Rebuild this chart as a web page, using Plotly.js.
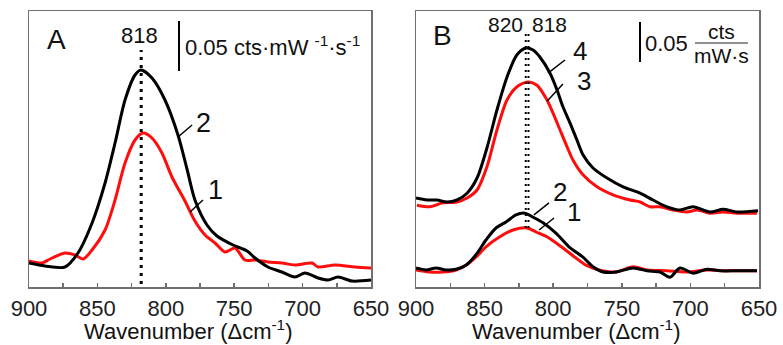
<!DOCTYPE html>
<html>
<head>
<meta charset="utf-8">
<script src="https://cdn.plot.ly/plotly-3.0.1.min.js"></script>
<style>html,body{margin:0;padding:0;background:#fff;}#chart{width:783px;height:345px;}</style>
</head>
<body>
<div id="chart"></div>
<script>
// ---------- Panel A ----------
const wnA2 = [900,888.3,873.7,864.2,853.9,844.4,837.1,829.8,822.5,818.1,810.1,800.6,791.1,784.5,778.7,769.9,762.6,750.9,740.6,734.8,725.3,715.1,705.6,698.2,688.7,681.4,674.1,663.9,650];
const cntA2 = [0.024,0.021,0.020,0.034,0.064,0.104,0.144,0.187,0.212,0.217,0.209,0.187,0.152,0.118,0.087,0.062,0.051,0.042,0.036,0.029,0.020,0.015,0.010,0.014,0.009,0.007,0.010,0.006,0.007];
const wnA1 = [900,890.5,884.6,873.7,866.4,860.5,853.9,844.4,837.1,829.8,822.5,816.7,810.1,802.8,795.5,786.0,778.7,771.3,764.0,756.7,749.4,742.1,734.8,725.3,715.1,705.6,693.1,688.7,676.3,661.7,650];
const cntA1 = [0.026,0.024,0.028,0.034,0.032,0.028,0.037,0.057,0.087,0.124,0.147,0.154,0.149,0.134,0.110,0.086,0.066,0.052,0.044,0.035,0.039,0.027,0.027,0.025,0.024,0.022,0.024,0.020,0.022,0.020,0.019];
const peaksA = [818];

// ---------- Panel B ----------
const wnB4 = [900,892.0,884.7,877.4,870.1,862.8,855.5,848.3,841.0,833.7,826.4,819.8,814.7,809.6,802.3,797.2,792.9,787.8,782.7,778.3,771.0,760.8,749.1,736.7,727.3,717.1,707.6,698.1,685.7,676.2,666.0,650.7];
const cntB4 = [0.110,0.1075,0.1075,0.105,0.1075,0.116,0.135,0.1725,0.220,0.261,0.289,0.2975,0.295,0.286,0.266,0.245,0.224,0.204,0.1825,0.164,0.1475,0.135,0.124,0.116,0.1075,0.099,0.095,0.099,0.0925,0.096,0.0925,0.094];
const wnB3 = [899.3,889.8,880.3,870.1,862.8,855.5,848.3,841.0,833.7,826.4,818.4,811.8,804.5,800.1,795.0,789.9,785.6,778.3,768.1,756.4,744.0,736.7,729.4,722.2,712.7,702.5,695.2,685.7,676.2,666.0,651.5];
const cntB3 = [0.101,0.099,0.104,0.105,0.110,0.120,0.149,0.195,0.2325,0.249,0.255,0.251,0.2325,0.216,0.195,0.174,0.1575,0.139,0.124,0.114,0.1075,0.105,0.099,0.099,0.095,0.0925,0.095,0.091,0.0925,0.091,0.091];
const wnB2 = [900,892.7,885.4,878.1,870.8,863.6,856.3,849.0,841.7,834.4,827.1,820.6,814.7,807.4,798.0,788.5,778.3,771.0,763.7,754.2,741.8,731.6,722.2,714.9,707.6,698.1,687.9,678.4,666.0,651.5];
const cntB2 = [0.0225,0.020,0.0225,0.020,0.021,0.026,0.039,0.0575,0.0725,0.080,0.089,0.091,0.086,0.079,0.066,0.049,0.036,0.024,0.0175,0.0175,0.0225,0.019,0.0175,0.011,0.0225,0.016,0.021,0.019,0.019,0.019];
const wnB1 = [900,890.5,880.3,870.8,863.6,856.3,849.0,839.5,829.3,819.1,812.5,803.1,792.9,783.4,776.1,766.6,754.2,741.8,731.6,717.1,702.5,687.9,673.3,651.5];
const cntB1 = [0.020,0.0175,0.0175,0.020,0.026,0.036,0.049,0.061,0.070,0.0725,0.0675,0.060,0.0475,0.035,0.026,0.020,0.0175,0.024,0.020,0.019,0.0175,0.020,0.019,0.019];
const peaksB = [820, 818];

const tickLabels = ['900','850','800','750','700','650'];
const tickVals = [900,850,800,750,700,650];

const FONT = 'Liberation Sans, Arial, Helvetica, sans-serif';
const RED = '#ff0d0d', BLK = '#000000', AX = '#707070';
const W = 783, H = 345;
const px = x => x / W, py = y => 1 - y / H;

function curve(x, y, color, xa, ya) {
  return {x: x, y: y, type: 'scatter', mode: 'lines', xaxis: xa, yaxis: ya,
    line: {color: color, width: 3, shape: 'spline', smoothing: 0.8}, hoverinfo: 'skip', showlegend: false};
}

const data = [
  curve(wnA1, cntA1, RED, 'x', 'y'),
  curve(wnA2, cntA2, BLK, 'x', 'y'),
  curve(wnB3, cntB3, RED, 'x2', 'y2'),
  curve(wnB4, cntB4, BLK, 'x2', 'y2'),
  curve(wnB1, cntB1, RED, 'x2', 'y2'),
  curve(wnB2, cntB2, BLK, 'x2', 'y2')
];

function xax(domain, anchor) {
  return {domain: domain, anchor: anchor, range: [900, 650], autorange: false,
    tickmode: 'array', tickvals: tickVals, ticktext: tickLabels,
    ticks: 'inside', ticklen: 4, tickwidth: 1.5, tickcolor: AX,
    minor: {tickmode: 'linear', tick0: 0, dtick: 25, ticks: 'inside', ticklen: 4, tickwidth: 1.5, tickcolor: AX},
    showline: true, linecolor: AX, linewidth: 1.5, mirror: true,
    showgrid: false, zeroline: false,
    tickfont: {family: FONT, size: 22, color: '#1e1e1e'}, ticklabelstandoff: 1};
}
function yax(domain, anchor, range) {
  return {domain: domain, anchor: anchor, range: range, autorange: false,
    showline: true, linecolor: AX, linewidth: 1.5, mirror: true,
    showticklabels: false, ticks: '', showgrid: false, zeroline: false};
}

const yDom = [58 / H, 334 / H];
const dotDash = '3px,5px';

const shapes = [];
peaksA.forEach(p => shapes.push({type: 'line', xref: 'x', yref: 'y', x0: p, x1: p, y0: 0.003, y1: 0.237,
  line: {color: BLK, width: 3, dash: dotDash}}));
peaksB.forEach(p => shapes.push({type: 'line', xref: 'x2', yref: 'y2', x0: p, x1: p, y0: 0.0725, y1: 0.316,
  line: {color: BLK, width: 2, dash: '2px,4px'}}));
// scale bars
shapes.push({type: 'line', xref: 'paper', yref: 'y', x0: px(179), x1: px(179), y0: 0.216, y1: 0.266, line: {color: BLK, width: 2}});
shapes.push({type: 'line', xref: 'paper', yref: 'y2', x0: px(640), x1: px(640), y0: 0.28, y1: 0.33, line: {color: BLK, width: 2}});
shapes.push({type: 'line', xref: 'paper', yref: 'paper', x0: px(695), x1: px(748), y0: py(43), y1: py(43), line: {color: '#222', width: 1.2}});
// label pointers
const ptrs = [
  ['x','y',791.1,0.150,780.8,0.162],
  ['x','y',782.3,0.075,772.8,0.087],
  ['x2','y2',803.8,0.266,791.4,0.2825],
  ['x2','y2',804.5,0.231,792.9,0.2525],
  ['x2','y2',814.0,0.089,803.1,0.104],
  ['x2','y2',810.3,0.070,799.4,0.085]
];
ptrs.forEach(p => shapes.push({type: 'line', xref: p[0], yref: p[1], x0: p[2], y0: p[3], x1: p[4], y1: p[5], line: {color: BLK, width: 1.5}}));

function ann(text, x, y, size, xanchor, extra) {
  return Object.assign({text: text, x: px(x), y: py(y), xref: 'paper', yref: 'paper', showarrow: false,
    xanchor: xanchor || 'center', yanchor: 'middle', font: {family: FONT, size: size, color: '#111'}}, extra || {});
}
const annotations = [
  ann('A', 56, 39, 28),
  ann('818', 139, 35, 22),
  ann('0.05 cts·mW <sup>-1</sup>·s<sup>-1</sup>', 183, 46, 22, 'left'),
  ann('2', 204, 123, 27),
  ann('1', 215, 190, 27),
  ann('B', 443, 35, 28),
  ann('820', 525, 25, 21, 'right'),
  ann('818', 530, 25, 21, 'left'),
  ann('0.05', 643, 44, 22, 'left'),
  ann('cts', 721, 31, 21),
  ann('mW·s', 721, 55, 21),
  ann('4', 580, 51, 26),
  ann('3', 584, 81, 26),
  ann('2', 560, 192, 26),
  ann('1', 574, 212, 26),
  ann('Wavenumber (Δcm<sup>-1</sup>)', 188, 330, 22),
  ann('Wavenumber (Δcm<sup>-1</sup>)', 576, 330, 22)
];

const layout = {
  width: W, height: H, margin: {l: 0, r: 0, t: 0, b: 0},
  paper_bgcolor: '#fff', plot_bgcolor: '#fff', showlegend: false,
  xaxis: xax([29 / W, 371 / W], 'y'),
  yaxis: yax(yDom, 'x', [0, 0.276]),
  xaxis2: xax([416 / W, 759 / W], 'y2'),
  yaxis2: yax(yDom, 'x2', [-0.00125, 0.34375]),
  shapes: shapes, annotations: annotations
};

Plotly.newPlot('chart', data, layout, {staticPlot: true, displayModeBar: false});
</script>
</body>
</html>
